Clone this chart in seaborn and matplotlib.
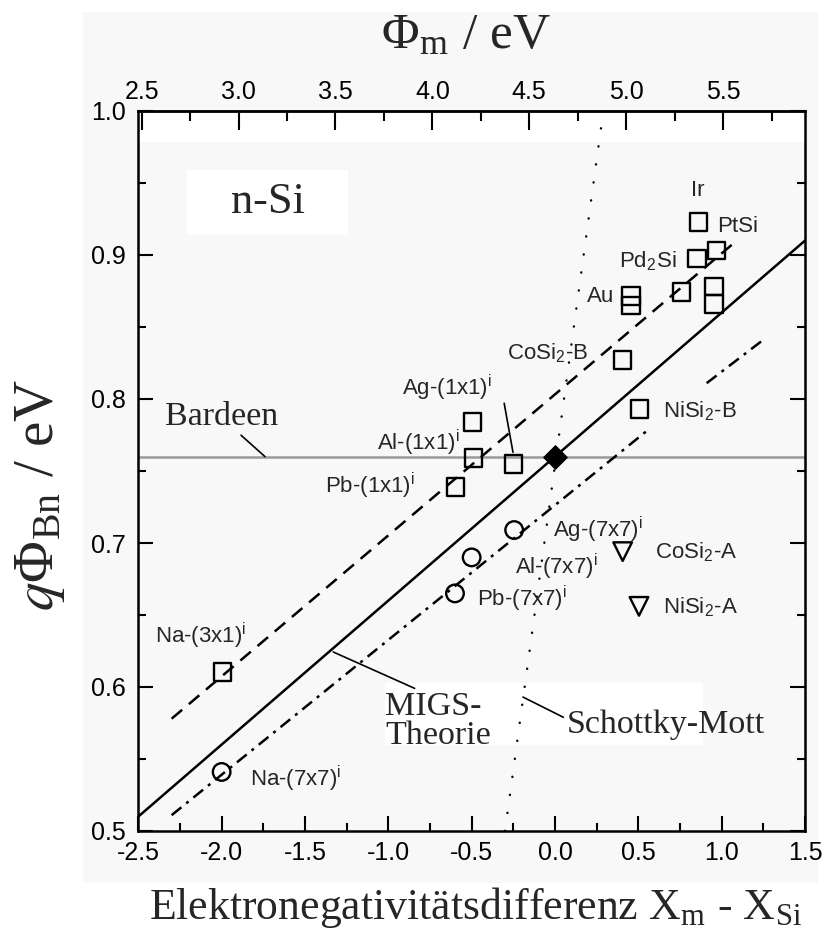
import numpy as np
import pandas as pd
import seaborn as sns
import matplotlib
matplotlib.use("Agg")
import matplotlib.pyplot as plt
from matplotlib.ticker import MultipleLocator, FixedLocator
from matplotlib.patches import Rectangle

# ---------------- data ----------------
sq_x = [-1.994, -0.596, -0.49, -0.494, -0.25, 0.406, 0.506, 0.456, 0.456, 0.76, 0.954, 0.954, 0.853, 0.97, 0.86]
sq_y = [0.6106, 0.7387, 0.759, 0.784, 0.755, 0.827, 0.793, 0.8715, 0.8648, 0.8745, 0.878, 0.866, 0.8977, 0.903, 0.923]
circ_x = [-2.0, -0.6, -0.5, -0.245]
circ_y = [0.541, 0.665, 0.690, 0.709]
tri_x = [0.406, 0.504]
tri_y = [0.694, 0.656]
ref_x = [0.0]
ref_y = [0.76]
bardeen_y = 0.76
migs_x = [-2.5, 1.5]
migs_y = [0.51, 0.91]
dash_x = [-2.3, 1.06]
dash_y = [0.578, 0.907]
dd1_x = [-2.3, 0.574]
dd1_y = [0.511, 0.78]
dd2_x = [0.91, 1.26]
dd2_y = [0.811, 0.842]
sm_x = [-0.3, 0.29]
sm_y = [0.5, 1.0]

xticks = [-2.5, -2.0, -1.5, -1.0, -0.5, 0.0, 0.5, 1.0, 1.5]
yticks = [0.5, 0.6, 0.7, 0.8, 0.9, 1.0]
phi_ticks = [2.5, 3.0, 3.5, 4.0, 4.5, 5.0, 5.5]
phi_minor = [2.75, 3.25, 3.75, 4.25, 4.75, 5.25, 5.75]

I = r"$^\mathregular{i}$"
lab_text = ["Ir", "PtSi", r"Pd$_\mathregular{2}$Si", "Au", r"CoSi$_\mathregular{2}$-B",
            r"NiSi$_\mathregular{2}$-B", "Ag-(1x1)" + I, "Al-(1x1)" + I, "Pb-(1x1)" + I,
            "Na-(3x1)" + I, "Ag-(7x7)" + I, "Al-(7x7)" + I, "Pb-(7x7)" + I,
            r"CoSi$_\mathregular{2}$-A", r"NiSi$_\mathregular{2}$-A", "Na-(7x7)" + I]
lab_x = [0.857, 0.975, 0.73, 0.354, 0.197, 0.648, -0.92, -1.07, -1.38, -2.40, -0.01, -0.24, -0.47, 0.60, 0.65, -1.83]
lab_y = [0.945, 0.920, 0.8965, 0.871, 0.832, 0.792, 0.808, 0.770, 0.740, 0.636, 0.710, 0.684, 0.6616, 0.694, 0.6558, 0.5366]
lab_ha = ["center", "left", "right", "right", "right", "left", "left", "left", "left", "left",
          "left", "left", "left", "left", "left", "left"]

# ---------------- style ----------------
sns.set_theme(style="ticks")
plt.rcParams["font.family"] = ["Liberation Sans", "DejaVu Sans"]
plt.rcParams["mathtext.fontset"] = "stix"

W, H = 824, 943
fig = plt.figure(figsize=(W / 100, H / 100), dpi=100)
fig.patch.set_facecolor("white")
# scanned light-grey background
fig.patches.append(Rectangle((83 / W, 1 - 883 / H), (818 - 83) / W, (883 - 12) / H,
                             transform=fig.transFigure, facecolor="#f8f8f8", edgecolor="none", zorder=-10))

ax = fig.add_axes([138.3 / W, (H - 831) / H, (805 - 138.3) / W, 720 / H])
ax.set_facecolor("#f8f8f8")
ax.set_xlim(-2.5, 1.5)
ax.set_ylim(0.5, 1.0)

# white patches
ax.add_patch(Rectangle((0, 0.957), 1, 0.043, transform=ax.transAxes, facecolor="white", edgecolor="none", zorder=0))
ax.add_patch(Rectangle((-2.21, 0.914), 0.97, 0.045, facecolor="white", edgecolor="none", zorder=0))
ax.add_patch(Rectangle((-1.02, 0.5597), 1.91, 0.0431, facecolor="white", edgecolor="none", zorder=0))

# lines
ax.axhline(bardeen_y, color="#9a9a9a", lw=1.8, zorder=1)
sns.lineplot(x=migs_x, y=migs_y, color="black", lw=1.8, ax=ax, zorder=2)
sns.lineplot(x=dash_x, y=dash_y, color="black", lw=1.8, ax=ax, linestyle=(0, (5.5, 3.5)), zorder=2)
sns.lineplot(x=dd1_x, y=dd1_y, color="black", lw=1.8, ax=ax, linestyle=(0, (5, 2.5, 1.2, 2.5)), zorder=2)
sns.lineplot(x=dd2_x, y=dd2_y, color="black", lw=1.8, ax=ax, linestyle=(0, (5, 2.5, 1.2, 2.5)), zorder=2)
sns.lineplot(x=sm_x, y=sm_y, color="black", lw=1.7, ax=ax, linestyle=(0, (0.1, 7.6)),
             dash_capstyle="round", zorder=2)

# markers
sns.scatterplot(x=sq_x, y=sq_y, marker="s", s=160, facecolor="none", edgecolor="black",
                linewidth=1.7, ax=ax, zorder=4)
sns.scatterplot(x=circ_x, y=circ_y, marker="o", s=160, facecolor="none", edgecolor="black",
                linewidth=1.7, ax=ax, zorder=4)
sns.scatterplot(x=tri_x, y=tri_y, marker="v", s=180, facecolor="none", edgecolor="black",
                linewidth=1.7, ax=ax, zorder=4)
sns.scatterplot(x=ref_x, y=ref_y, marker="D", s=140, color="black", edgecolor="black",
                linewidth=1, ax=ax, zorder=5)

# point labels
for t, x, y, ha in zip(lab_text, lab_x, lab_y, lab_ha):
    ax.text(x, y, t, ha=ha, va="center", fontsize=16, family=["Liberation Sans", "DejaVu Sans"], zorder=6)

# serif annotations with leader lines
serif = ["Liberation Serif", "DejaVu Serif"]
ax.text(-1.72, 0.937, "n-Si", ha="center", va="center", fontsize=32, family=serif, zorder=6)
ax.annotate("Bardeen", xy=(-1.74, 0.760), xytext=(-2.34, 0.7877), ha="left", va="center",
            fontsize=24.5, family=serif, zorder=6,
            arrowprops=dict(arrowstyle="-", color="black", lw=1.2, shrinkA=0, shrinkB=0,
                            relpos=(0.64, 0.0)))
ax.annotate("Ag", xy=(-0.252, 0.763), xytext=(-0.378, 0.8014), alpha=0.0,
            arrowprops=dict(arrowstyle="-", color="black", lw=1.2, shrinkA=0, shrinkB=0))
ax.annotate("MIGS-\nTheorie", xy=(-1.33, 0.6243), xytext=(-1.02, 0.5760), ha="left", va="center",
            fontsize=24.5, family=serif, linespacing=0.95, zorder=6,
            arrowprops=dict(arrowstyle="-", color="black", lw=1.2, shrinkA=0, shrinkB=0,
                            relpos=(0.35, 1.0)))
ax.annotate("Schottky-Mott", xy=(-0.192, 0.593), xytext=(0.07, 0.5736), ha="left", va="center",
            fontsize=24.5, family=serif, zorder=6,
            arrowprops=dict(arrowstyle="-", color="black", lw=1.2, shrinkA=0, shrinkB=0,
                            relpos=(0.0, 0.7)))

# axes / ticks
ax.set_xticks(xticks)
ax.set_xticklabels([f"{v:.1f}" for v in xticks])
ax.set_yticks(yticks)
ax.set_yticklabels([f"{v:.1f}" for v in yticks])
ax.xaxis.set_minor_locator(MultipleLocator(0.25))
ax.yaxis.set_minor_locator(MultipleLocator(0.05))
ax.tick_params(which="both", direction="in", right=True, top=False, width=1.5, colors="black",
               labelsize=18)
ax.tick_params(axis="x", which="major", length=10.5, pad=7)
ax.tick_params(axis="x", which="minor", length=5.5)
ax.tick_params(axis="y", which="major", length=10.5, pad=9)
ax.tick_params(axis="y", which="minor", length=5.5)
for s in ax.spines.values():
    s.set_linewidth(1.8)
    s.set_color("black")
    s.set_visible(True)

def fwd(x):
    return 2.5 + 0.86 * (np.asarray(x) + 2.48)

def inv(p):
    return (np.asarray(p) - 2.5) / 0.86 - 2.48

sec = ax.secondary_xaxis("top", functions=(fwd, inv))
sec.set_xticks(phi_ticks)
sec.set_xticklabels([f"{v:.1f}" for v in phi_ticks])
sec.xaxis.set_minor_locator(FixedLocator(phi_minor))
sec.tick_params(which="both", direction="in", width=1.5, labelsize=18, colors="black")
sec.tick_params(which="major", length=14, pad=5)
sec.tick_params(which="minor", length=7)
sec.spines["top"].set_linewidth(1.8)

# axis titles
fig.text(466 / W, 1 - 36 / H, r"Φ$_\mathregular{m}$ / eV", ha="center", va="center",
         fontsize=37, family=serif)
fig.text(40 / W, 1 - 495 / H, r"$\mathit{q}$Φ$_\mathregular{Bn}$ / eV", ha="center", va="center",
         fontsize=41, family=serif, rotation=90)
fig.text(476 / W, 1 - 908 / H, r"Elektronegativitätsdifferenz X$_\mathregular{m}$ - X$_\mathregular{Si}$",
         ha="center", va="center", fontsize=31.5, family=serif)

fig.savefig("out.png", dpi=100, facecolor="white")
